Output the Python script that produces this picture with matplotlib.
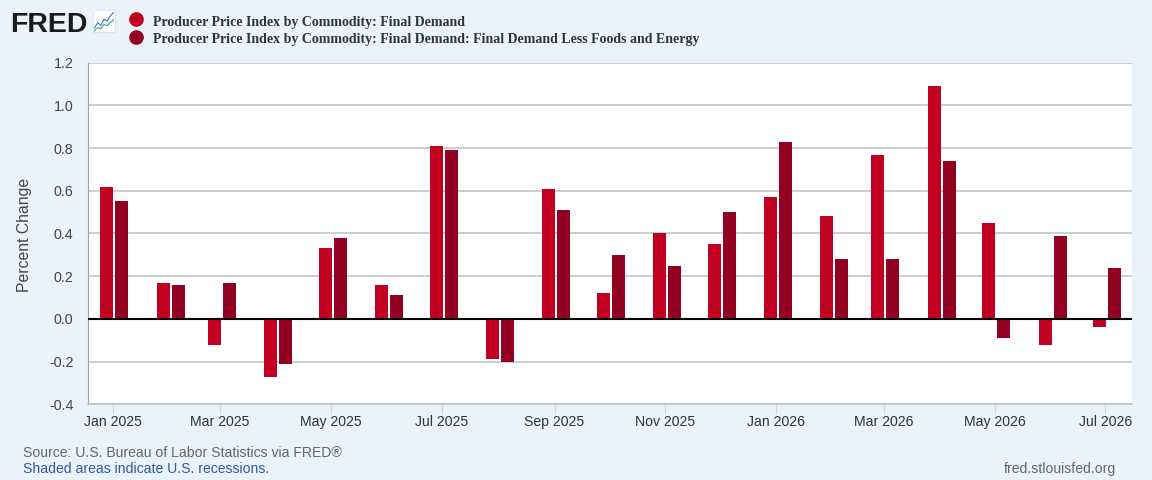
#!/usr/bin/env python3
import numpy as np
import matplotlib
matplotlib.use('Agg')
import matplotlib.pyplot as plt
import matplotlib.dates as mdates
from matplotlib.lines import Line2D
from datetime import datetime

plt.rcParams['font.family'] = ['Liberation Sans', 'DejaVu Sans']

# monthly percent change, Jan 2025 .. Jul 2026
months = ['2025-01', '2025-02', '2025-03', '2025-04', '2025-05', '2025-06',
          '2025-07', '2025-08', '2025-09', '2025-10', '2025-11', '2025-12',
          '2026-01', '2026-02', '2026-03', '2026-04', '2026-05', '2026-06',
          '2026-07']
final_demand = [0.62, 0.17, -0.12, -0.27, 0.33, 0.16, 0.81, -0.19, 0.61, 0.12,
                0.40, 0.35, 0.57, 0.48, 0.77, 1.09, 0.45, -0.12, -0.04]
core = [0.55, 0.16, 0.17, -0.21, 0.38, 0.11, 0.79, -0.20, 0.51, 0.30,
        0.25, 0.50, 0.83, 0.28, 0.28, 0.74, -0.09, 0.39, 0.24]
series_names = ['Producer Price Index by Commodity: Final Demand',
                'Producer Price Index by Commodity: Final Demand: Final Demand Less Foods and Energy']
y_ticks = [-0.4, -0.2, 0.0, 0.2, 0.4, 0.6, 0.8, 1.0, 1.2]

BG = '#EAF2FA'
RED = '#C10022'
DARK = '#920022'
W, H = 1152, 480

dates = [datetime.strptime(m, '%Y-%m') for m in months]
x = mdates.date2num(dates)

fig = plt.figure(figsize=(W / 100, H / 100), dpi=100, facecolor=BG)
ax = fig.add_axes([88 / W, 1 - 404.3 / H, 1044 / W, 341.6 / H])
ax.set_facecolor('white')

bar_w = 7.15
ax.bar(x - 3.2, final_demand, width=bar_w, color=RED, zorder=3)
ax.bar(x + 5.05, core, width=bar_w, color=DARK, zorder=3)
ax.axhline(0, color='black', lw=1.5, zorder=4)

start = mdates.date2num(dates[0])
ax.set_xlim(start - 13.6, start + 560.6)
ax.set_ylim(-0.4, 1.2)

ax.set_yticks(y_ticks)
ax.set_yticklabels([f'{v:.1f}' for v in y_ticks])
ax.yaxis.grid(True, color='#C0C0C0', lw=1.1, zorder=0)
ax.tick_params(axis='y', length=0, pad=10.5, labelsize=10.3, labelcolor='#444444')

ax.xaxis.set_major_locator(mdates.MonthLocator(bymonth=[1, 3, 5, 7, 9, 11]))
ax.xaxis.set_major_formatter(mdates.DateFormatter('%b %Y'))
ax.tick_params(axis='x', length=7.2, width=0.8, color='#CCD6EB', pad=0.5,
               labelsize=10.1, labelcolor='#333333')

for side in ['top', 'right']:
    ax.spines[side].set_visible(False)
ax.spines['left'].set_color('#A0A0A0')
ax.spines['bottom'].set_color('#C0C0C0')
ax.spines['bottom'].set_linewidth(1.1)

fig.text(25 / W, 1 - 234.5 / H, 'Percent Change', rotation=90, ha='center', va='center',
         fontsize=11.3, color='#444444')

# header: logo + legend
fig.text(10 / W, 1 - 32 / H, 'FRED', fontsize=20.5, fontweight='bold', color='#1a1a1a',
         ha='left', va='baseline')
icon = fig.add_axes([93 / W, 1 - 32 / H, 22 / W, 22 / H])
icon.set_facecolor('white')
icon_x = [0, 1, 2, 3, 4, 5, 6]
icon_blue = [1.0, 2.2, 1.6, 3.0, 2.6, 3.8, 4.6]
icon_green = [0.4, 1.0, 0.8, 1.8, 1.5, 2.2, 2.9]
icon.plot(icon_x, icon_blue, color='#2B6CD9', lw=0.8)
icon.plot(icon_x, icon_green, color='#2EA37A', lw=0.8)
icon.set_xlim(-0.5, 6.5)
icon.set_ylim(0, 5.2)
icon.set_xticks([])
icon.set_yticks([])
for s in icon.spines.values():
    s.set_color('#DDDDDD')
    s.set_linewidth(0.5)

for i, (name, col) in enumerate(zip(series_names, [RED, DARK])):
    fig.add_artist(Line2D([136 / W], [1 - (19 + 17.7 * i) / H], marker='o', markersize=9.5,
                          color=col, transform=fig.transFigure, lw=0))
    fig.text(153 / W, 1 - (26 + 16.7 * i) / H, name, fontsize=10.0, fontweight='bold',
             color='#333333', family='Liberation Serif', ha='left', va='baseline')

# footer
fig.text(23 / W, 1 - 453 / H, 'Source: U.S. Bureau of Labor Statistics via FRED®',
         fontsize=10.1, color='#666666', ha='left', va='center')
fig.text(23 / W, 1 - 469 / H, 'Shaded areas indicate U.S. recessions.',
         fontsize=10.1, color='#2F5C9E', ha='left', va='center')
fig.text(1116 / W, 1 - 469 / H, 'fred.stlouisfed.org',
         fontsize=10.1, color='#666666', ha='right', va='center')

fig.savefig('out.png', dpi=100, facecolor=BG)
